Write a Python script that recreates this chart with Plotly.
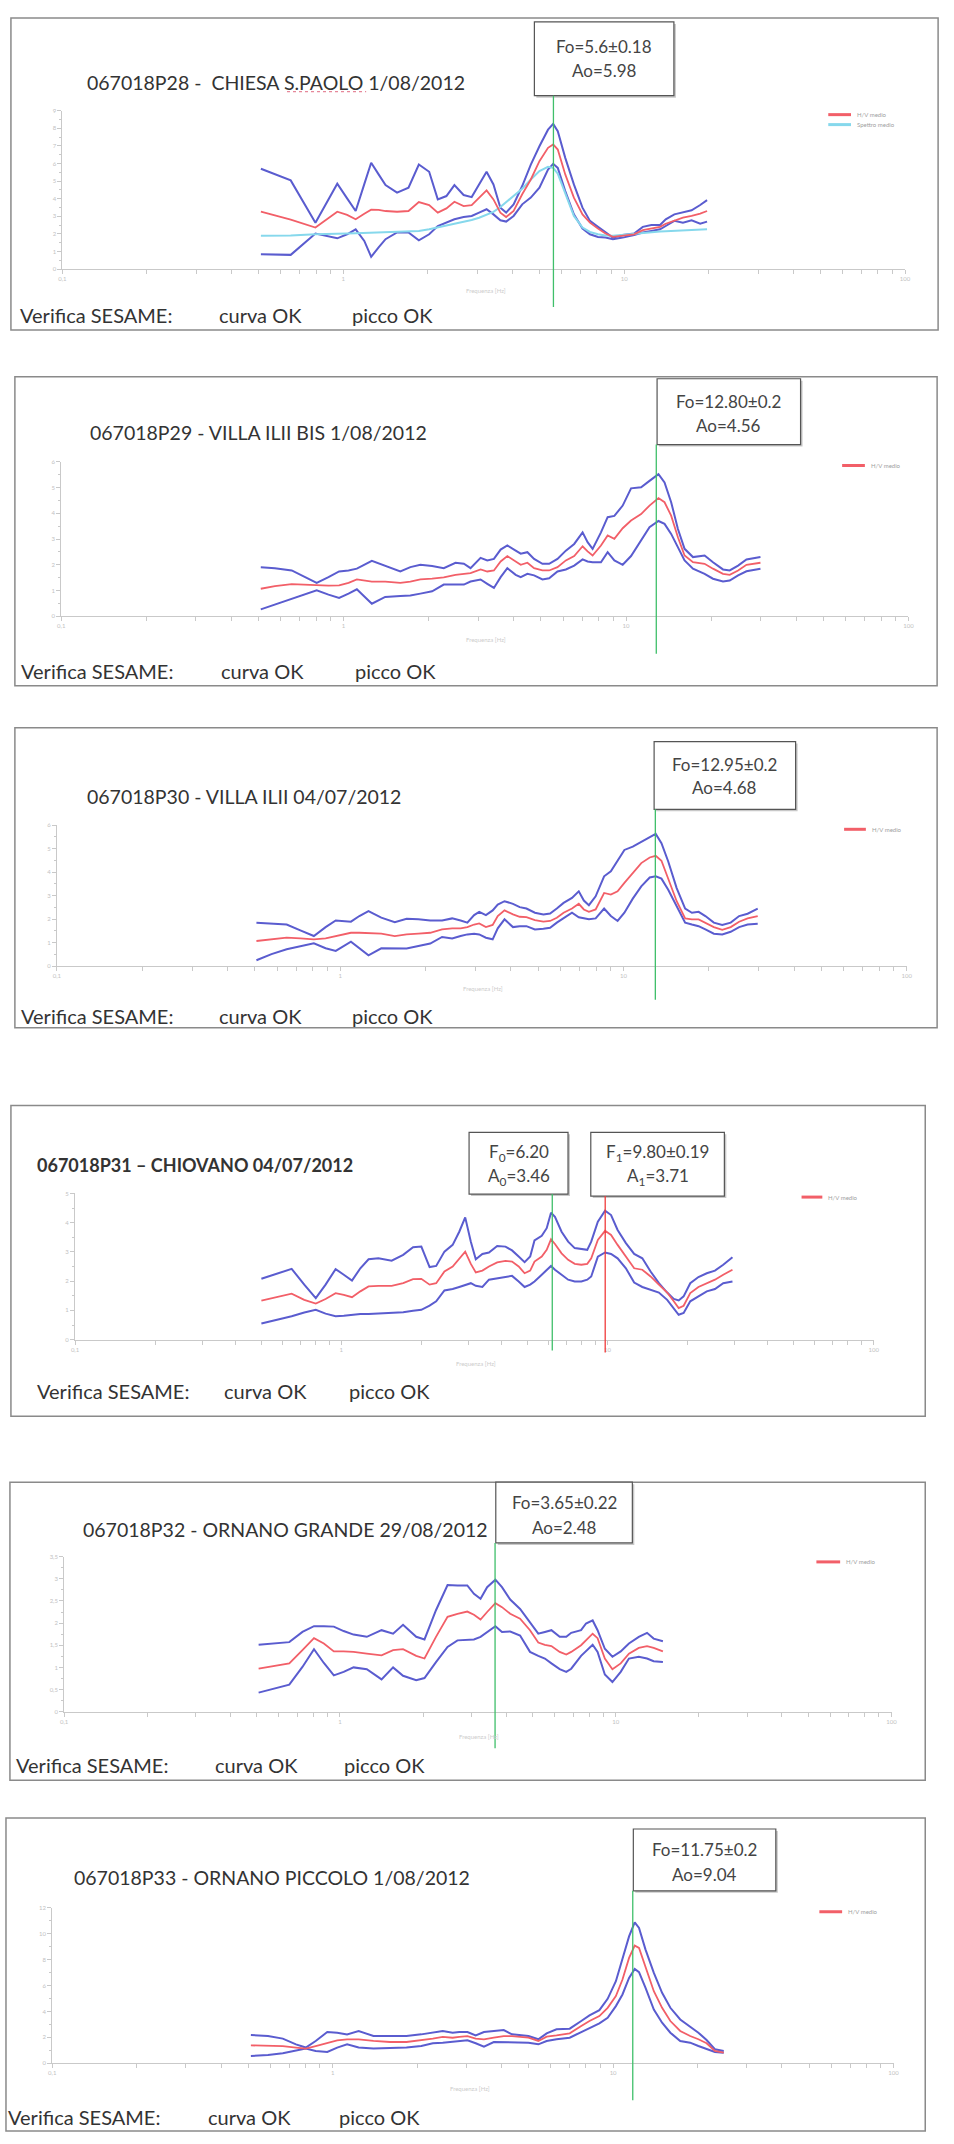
import math
import plotly.graph_objects as go

W, H = 954, 2144

# ----------------------------- DATA -----------------------------
# Panel 1 - 067018P28 CHIESA S.PAOLO
p1_freq = [0.509, 0.650, 0.796, 0.875, 0.952, 1.032, 1.107, 1.188, 1.257, 1.336,
           1.414, 1.554, 1.707, 1.858, 2.022, 2.170, 2.329, 2.487, 2.682, 2.865,
           3.045, 3.237, 3.425, 3.625, 3.800, 4.040, 4.335, 4.652, 4.993, 5.357,
           5.589, 5.803, 6.170, 6.622, 7.106, 7.553, 8.069, 8.578, 9.119, 9.879,
           10.85, 11.65, 12.50, 13.42, 14.06, 15.09, 16.19, 17.38, 18.65, 19.73]
p1_upper = [5.70, 5.04, 2.64, 3.81, 4.85, 4.02, 3.30, 4.83, 6.04, 5.38,
            4.77, 4.34, 4.62, 5.94, 5.53, 3.96, 4.15, 4.77, 4.21, 4.09,
            4.81, 5.53, 4.81, 3.49, 3.21, 3.68, 4.72, 5.94, 6.98, 7.92,
            8.25, 7.83, 6.32, 4.81, 3.49, 2.74, 2.40, 2.08, 1.79, 1.94,
            2.02, 2.40, 2.51, 2.51, 2.83, 3.11, 3.21, 3.34, 3.64, 3.92]
p1_mean = [3.26, 2.81, 2.36, 2.83, 3.26, 3.08, 2.83, 3.15, 3.38, 3.36,
           3.30, 3.26, 3.30, 3.81, 3.64, 3.21, 3.45, 3.83, 3.58, 3.64,
           4.06, 4.47, 3.96, 3.21, 2.96, 3.30, 4.25, 5.09, 6.13, 6.89,
           7.08, 6.79, 5.38, 4.06, 3.11, 2.64, 2.30, 2.02, 1.83, 1.89,
           1.98, 2.21, 2.30, 2.40, 2.58, 2.77, 2.92, 3.02, 3.15, 3.30]
p1_lower = [0.85, 0.81, 2.02, 1.89, 1.75, 1.98, 2.26, 1.60, 0.70, 1.23,
            1.70, 2.08, 2.08, 1.64, 1.98, 2.45, 2.64, 2.83, 2.96, 3.02,
            3.21, 3.40, 3.11, 2.77, 2.70, 3.02, 3.68, 4.06, 4.62, 5.66,
            5.98, 5.75, 4.43, 3.11, 2.30, 1.98, 1.83, 1.79, 1.70, 1.79,
            1.94, 2.08, 2.17, 2.26, 2.45, 2.74, 2.64, 2.77, 2.58, 2.70]
p1_spectrum = [1.89, 1.91, 1.98, 1.98, 2.00, 2.02, 2.04, 2.06, 2.08, 2.08,
               2.09, 2.11, 2.13, 2.17, 2.26, 2.36, 2.47, 2.58, 2.70, 2.79,
               2.92, 3.08, 3.25, 3.53, 3.81, 4.15, 4.57, 5.09, 5.57, 5.81,
               5.75, 5.42, 4.25, 3.02, 2.36, 2.11, 1.98, 1.91, 1.89, 1.94,
               2.02, 2.08, 2.11, 2.13, 2.15, 2.17, 2.19, 2.21, 2.25, 2.26]

# Panel 2 - 067018P29 VILLA ILII BIS
p2_freq = [0.509, 0.571, 0.655, 0.730, 0.803, 0.884, 0.964, 1.041, 1.114, 1.259,
           1.404, 1.588, 1.723, 1.870, 2.058, 2.263, 2.490, 2.666, 2.815, 3.055,
           3.227, 3.406, 3.598, 3.800, 4.068, 4.238, 4.475, 4.726, 5.060, 5.343,
           5.719, 6.123, 6.555, 7.019, 7.311, 7.616, 8.152, 8.610, 9.093, 9.734,
           10.42, 11.31, 12.11, 13.03, 13.69, 14.45, 15.27, 16.12, 17.26, 18.98,
           20.32, 22.05, 23.29, 24.94, 26.70, 29.93]
p2_upper = [1.90, 1.87, 1.78, 1.52, 1.30, 1.52, 1.74, 1.78, 1.85, 2.15,
            1.97, 1.74, 1.91, 2.00, 1.95, 1.87, 2.08, 2.04, 1.87, 2.27,
            2.17, 2.23, 2.59, 2.75, 2.55, 2.43, 2.49, 2.23, 2.04, 2.04,
            2.23, 2.55, 2.81, 3.26, 2.88, 2.62, 3.26, 3.85, 3.90, 4.30,
            4.97, 5.01, 5.26, 5.52, 5.20, 4.43, 3.39, 2.62, 2.30, 2.36,
            2.10, 1.82, 1.78, 1.97, 2.21, 2.30]
p2_mean = [1.07, 1.17, 1.25, 1.23, 1.19, 1.19, 1.20, 1.30, 1.43, 1.35,
           1.35, 1.30, 1.35, 1.43, 1.46, 1.51, 1.61, 1.64, 1.68, 1.82,
           1.74, 1.78, 2.13, 2.34, 2.13, 2.00, 2.08, 1.87, 1.78, 1.78,
           1.91, 2.17, 2.34, 2.72, 2.52, 2.36, 2.75, 3.14, 3.01, 3.42,
           3.72, 3.97, 4.30, 4.59, 4.43, 3.91, 3.07, 2.36, 2.10, 2.04,
           1.85, 1.65, 1.61, 1.78, 2.00, 2.08]
p2_lower = [0.27, 0.45, 0.68, 0.84, 1.01, 0.84, 0.71, 0.88, 1.05, 0.49,
            0.75, 0.79, 0.81, 0.88, 0.97, 1.23, 1.23, 1.23, 1.35, 1.43,
            1.26, 1.10, 1.52, 1.87, 1.61, 1.52, 1.65, 1.59, 1.43, 1.48,
            1.74, 1.82, 1.97, 2.21, 2.13, 2.10, 2.10, 2.49, 2.17, 2.00,
            2.34, 2.94, 3.46, 3.70, 3.59, 3.20, 2.68, 2.17, 1.85, 1.65,
            1.46, 1.35, 1.39, 1.59, 1.75, 1.85]

# Panel 3 - 067018P30 VILLA ILII
p3_freq = [0.506, 0.572, 0.647, 0.723, 0.807, 0.888, 0.964, 1.091, 1.168, 1.258,
           1.396, 1.558, 1.715, 1.888, 2.078, 2.288, 2.484, 2.660, 2.810, 2.969,
           3.094, 3.268, 3.452, 3.597, 3.801, 4.071, 4.300, 4.542, 4.865, 5.212,
           5.505, 5.814, 6.143, 6.578, 6.950, 7.242, 7.546, 7.972, 8.539, 9.020,
           9.528, 10.07, 10.78, 11.55, 12.37, 12.99, 13.61, 14.38, 15.40, 16.50,
           17.43, 18.41, 19.45, 20.83, 22.31, 23.89, 25.59, 27.41, 29.76]
p3_upper = [1.85, 1.82, 1.77, 1.52, 1.28, 1.66, 1.94, 1.89, 2.13, 2.34,
            2.06, 1.87, 2.01, 1.99, 1.94, 1.94, 2.03, 1.94, 1.85, 2.17,
            2.31, 2.17, 2.37, 2.62, 2.76, 2.65, 2.51, 2.45, 2.27, 2.20,
            2.24, 2.45, 2.69, 2.90, 3.18, 2.79, 2.59, 2.97, 3.82, 4.03,
            4.48, 4.94, 5.08, 5.27, 5.46, 5.62, 5.23, 4.45, 3.32, 2.45,
            2.27, 2.31, 2.13, 1.85, 1.75, 1.85, 2.13, 2.23, 2.45]
p3_mean = [1.07, 1.14, 1.21, 1.18, 1.14, 1.18, 1.28, 1.42, 1.42, 1.39,
           1.38, 1.28, 1.35, 1.38, 1.42, 1.56, 1.61, 1.61, 1.66, 1.77,
           1.82, 1.66, 1.75, 2.13, 2.37, 2.20, 2.10, 2.08, 1.96, 1.89,
           1.92, 2.06, 2.27, 2.45, 2.65, 2.41, 2.31, 2.41, 3.11, 3.04,
           3.18, 3.54, 3.96, 4.38, 4.62, 4.69, 4.48, 3.75, 2.76, 2.03,
           1.99, 1.99, 1.85, 1.66, 1.54, 1.66, 1.89, 2.03, 2.13]
p3_lower = [0.25, 0.51, 0.72, 0.86, 0.97, 0.76, 0.65, 1.04, 0.75, 0.46,
            0.76, 0.75, 0.75, 0.86, 0.96, 1.24, 1.18, 1.28, 1.35, 1.38,
            1.35, 1.21, 1.14, 1.61, 1.99, 1.66, 1.70, 1.70, 1.56, 1.59,
            1.63, 1.85, 2.03, 2.27, 2.08, 2.03, 1.99, 2.03, 2.45, 2.13,
            1.92, 2.27, 2.87, 3.39, 3.77, 3.82, 3.72, 3.25, 2.55, 1.85,
            1.77, 1.70, 1.56, 1.38, 1.35, 1.46, 1.66, 1.77, 1.80]

# Panel 4 - 067018P31 CHIOVANO
p4_freq = [0.501, 0.569, 0.651, 0.726, 0.802, 0.873, 0.952, 1.022, 1.097, 1.179,
           1.266, 1.379, 1.546, 1.708, 1.860, 1.998, 2.146, 2.272, 2.440, 2.620,
           2.774, 2.920, 3.066, 3.200, 3.388, 3.586, 3.851, 4.137, 4.379, 4.637,
           4.881, 5.123, 5.317, 5.661, 5.909, 6.133, 6.346, 6.720, 7.113, 7.530,
           7.972, 8.392, 8.684, 9.196, 9.790, 10.31, 10.91, 11.72, 12.59, 13.51,
           14.51, 15.59, 16.75, 17.73, 18.50, 19.31, 20.45, 21.95, 23.59, 25.32,
           27.20, 29.46]
p4_upper = [2.08, 2.25, 2.42, 1.88, 1.42, 1.88, 2.41, 2.22, 2.02, 2.44,
            2.75, 2.78, 2.70, 2.90, 3.16, 3.18, 2.48, 2.52, 3.01, 3.24,
            3.69, 4.18, 3.35, 2.75, 2.93, 2.98, 3.20, 3.18, 3.05, 2.84,
            2.65, 2.84, 3.39, 3.55, 3.81, 4.34, 4.20, 3.69, 3.35, 3.13,
            3.09, 3.07, 3.35, 4.03, 4.41, 4.26, 3.75, 3.30, 2.93, 2.78,
            2.33, 1.93, 1.61, 1.39, 1.34, 1.48, 1.93, 2.14, 2.27, 2.36,
            2.56, 2.82]
p4_mean = [1.33, 1.45, 1.57, 1.36, 1.23, 1.39, 1.59, 1.53, 1.45, 1.65,
           1.82, 1.84, 1.84, 1.93, 2.07, 2.08, 1.88, 1.93, 2.33, 2.50,
           2.78, 3.01, 2.59, 2.30, 2.36, 2.50, 2.64, 2.69, 2.67, 2.50,
           2.27, 2.36, 2.67, 2.84, 3.07, 3.43, 3.27, 2.95, 2.73, 2.59,
           2.56, 2.59, 2.78, 3.41, 3.72, 3.58, 3.24, 2.84, 2.44, 2.39,
           2.16, 1.88, 1.61, 1.31, 1.08, 1.16, 1.59, 1.80, 1.93, 2.05,
           2.22, 2.39]
p4_lower = [0.55, 0.66, 0.80, 0.93, 1.02, 0.89, 0.80, 0.82, 0.85, 0.88,
            0.88, 0.89, 0.91, 0.94, 0.99, 1.02, 1.16, 1.31, 1.68, 1.73,
            1.80, 1.88, 1.93, 1.84, 1.80, 2.05, 2.10, 2.14, 2.18, 1.99,
            1.80, 1.88, 1.99, 2.22, 2.39, 2.52, 2.39, 2.22, 2.05, 1.99,
            1.99, 2.05, 2.16, 2.84, 2.98, 2.93, 2.78, 2.44, 1.95, 1.80,
            1.70, 1.61, 1.36, 1.08, 0.85, 0.91, 1.31, 1.48, 1.65, 1.73,
            1.93, 1.99]

# Panel 5 - 067018P32 ORNANO GRANDE
p5_freq = [0.507, 0.578, 0.655, 0.731, 0.805, 0.874, 0.950, 1.031, 1.120, 1.251,
           1.415, 1.558, 1.693, 1.890, 2.025, 2.229, 2.455, 2.667, 2.895, 3.060,
           3.233, 3.416, 3.660, 3.867, 4.142, 4.498, 4.886, 5.235, 5.531, 5.843,
           6.260, 6.614, 6.893, 7.484, 7.800, 8.243, 8.590, 9.127, 9.723, 10.42,
           11.16, 12.12, 12.98, 13.72, 14.82]
p5_upper = [1.51, 1.54, 1.57, 1.80, 1.93, 1.93, 1.92, 1.82, 1.74, 1.69,
            1.84, 1.76, 1.96, 1.69, 1.63, 2.29, 2.86, 2.85, 2.85, 2.66,
            2.55, 2.81, 2.98, 2.81, 2.53, 2.32, 2.02, 1.76, 1.80, 1.84,
            1.69, 1.69, 1.78, 1.84, 1.99, 2.06, 1.84, 1.42, 1.24, 1.36,
            1.54, 1.69, 1.78, 1.65, 1.59]
p5_mean = [0.97, 1.03, 1.09, 1.39, 1.66, 1.54, 1.36, 1.36, 1.35, 1.31,
           1.27, 1.39, 1.41, 1.26, 1.20, 1.69, 2.14, 2.21, 2.26, 2.19,
           2.08, 2.25, 2.45, 2.36, 2.21, 2.10, 1.84, 1.56, 1.51, 1.48,
           1.35, 1.29, 1.35, 1.50, 1.61, 1.76, 1.66, 1.20, 0.96, 1.09,
           1.31, 1.44, 1.48, 1.44, 1.36]
p5_lower = [0.43, 0.52, 0.61, 1.01, 1.41, 1.10, 0.82, 0.90, 1.00, 0.96,
            0.73, 1.00, 0.81, 0.71, 0.76, 1.12, 1.46, 1.61, 1.63, 1.63,
            1.69, 1.80, 1.93, 1.80, 1.81, 1.72, 1.35, 1.26, 1.20, 1.09,
            0.96, 0.90, 0.97, 1.26, 1.36, 1.51, 1.35, 0.84, 0.67, 0.90,
            1.20, 1.24, 1.20, 1.14, 1.12]

# Panel 6 - 067018P33 ORNANO PICCOLO
p6_freq = [0.511, 0.588, 0.664, 0.740, 0.802, 0.870, 0.957, 1.038, 1.126, 1.238,
           1.398, 1.601, 1.833, 2.070, 2.276, 2.469, 2.678, 2.827, 3.024, 3.236,
           3.463, 3.755, 4.074, 4.360, 4.666, 4.992, 5.414, 5.794, 6.284, 7.002,
           7.698, 8.237, 8.934, 9.561, 10.23, 10.80, 11.40, 11.94, 12.37, 13.05,
           13.97, 14.95, 16.00, 17.35, 18.82, 20.14, 21.54, 23.06, 24.80]
p6_upper = [2.18, 2.10, 1.90, 1.46, 1.21, 1.72, 2.41, 2.36, 2.23, 2.49,
            2.10, 2.10, 2.10, 2.23, 2.36, 2.49, 2.36, 2.41, 2.41, 2.15,
            2.41, 2.49, 2.56, 2.23, 2.15, 2.10, 1.85, 2.31, 2.62, 2.67,
            3.26, 3.69, 4.10, 4.97, 6.33, 8.00, 9.79, 10.87, 10.44, 8.77,
            6.97, 5.44, 4.28, 3.38, 2.82, 2.36, 1.79, 1.08, 0.95]
p6_mean = [1.38, 1.38, 1.33, 1.21, 1.13, 1.33, 1.59, 1.77, 1.85, 1.85,
           1.72, 1.64, 1.64, 1.77, 1.90, 2.03, 1.97, 2.03, 2.10, 1.90,
           1.85, 1.97, 2.10, 2.10, 2.05, 1.97, 1.72, 2.05, 2.15, 2.31,
           2.87, 3.26, 3.64, 4.28, 5.18, 6.46, 8.13, 9.08, 8.90, 7.49,
           5.56, 4.28, 3.26, 2.49, 2.10, 1.85, 1.54, 0.95, 0.82]
p6_lower = [0.56, 0.64, 0.77, 0.95, 1.13, 0.95, 0.87, 1.21, 1.46, 1.21,
            1.13, 1.18, 1.21, 1.33, 1.54, 1.59, 1.64, 1.72, 1.77, 1.54,
            1.28, 1.64, 1.64, 1.64, 1.64, 1.59, 1.46, 1.72, 1.85, 1.97,
            2.41, 2.74, 3.08, 3.51, 4.41, 5.31, 6.59, 7.28, 7.03, 5.82,
            4.15, 3.13, 2.36, 1.72, 1.59, 1.33, 1.13, 0.87, 0.82]

titles = ["067018P28 -  CHIESA S.PAOLO 1/08/2012",
          "067018P29 - VILLA ILII BIS 1/08/2012",
          "067018P30 - VILLA ILII 04/07/2012",
          "<b>067018P31 – CHIOVANO 04/07/2012</b>",
          "067018P32 - ORNANO GRANDE 29/08/2012",
          "067018P33 - ORNANO PICCOLO 1/08/2012"]

# peak frequencies (Hz) and their label texts
peak_freqs = [[5.6], [12.80], [12.95], [6.20, 9.80], [3.65], [11.75]]
peak_texts = [[("Fo=5.6±0.18", "Ao=5.98")],
              [("Fo=12.80±0.2", "Ao=4.56")],
              [("Fo=12.95±0.2", "Ao=4.68")],
              [("F<sub>0</sub>=6.20", "A<sub>0</sub>=3.46"),
               ("F<sub>1</sub>=9.80±0.19", "A<sub>1</sub>=3.71")],
              [("Fo=3.65±0.22", "Ao=2.48")],
              [("Fo=11.75±0.2", "Ao=9.04")]]

x_tick_vals = [0.1, 0.2, 0.3, 0.4, 0.5, 0.6, 0.7, 0.8, 0.9,
               1, 2, 3, 4, 5, 6, 7, 8, 9,
               10, 20, 30, 40, 50, 60, 70, 80, 90, 100]
x_tick_text = ["0,1", " ", " ", " ", " ", " ", " ", " ", " ",
               "1", " ", " ", " ", " ", " ", " ", " ", " ",
               "10", " ", " ", " ", " ", " ", " ", " ", " ", "100"]

legend_main = "H/V medio"
legend_spec = "Spettro medio"
check_texts = ["Verifica SESAME:", "curva OK", "picco OK"]

# ----------------------------- STYLE / LAYOUT -----------------------------
BLUE = "#5a5ccf"
RED = "#f25f68"
CYAN = "#86d8ec"
GREEN = "#3fbf6a"
PEAKRED = "#f03c3c"
AXC = "#c9c9c9"
TICKF = dict(size=6, color="#c2c2c2")
FONT = "Lato, 'Open Sans', sans-serif"
TXT = "#333333"

panels = [
    dict(freq=p1_freq, up=p1_upper, mean=p1_mean, low=p1_lower, spec=p1_spectrum,
         border=(7, 14, 944, 327), xr=(59, 910.6), yax=266, ytop=107, ymax=9, dt=1, mdt=0.5,
         title_xy=(82, 79), tsize=19.5,
         boxes=[(536, 18, 677, 92, 43, 67)], lines=[(92, 304, GREEN)],
         leg_y=111, leg_x=(833, 856), check_y=312, check_x=(14, 215, 350), fq=(487, 287)),
    dict(freq=p2_freq, up=p2_upper, mean=p2_mean, low=p2_lower, spec=None,
         border=(11, 374, 943, 684), xr=(57.8, 914), yax=614.3, ytop=459.3, ymax=6, dt=1, mdt=0.5,
         title_xy=(85, 430), tsize=19.5,
         boxes=[(660, 376, 805, 442, 399, 423)], lines=[(442, 652, GREEN)],
         leg_y=463, leg_x=(847, 870), check_y=669, check_x=(15, 217, 353), fq=(487, 638)),
    dict(freq=p3_freq, up=p3_upper, mean=p3_mean, low=p3_lower, spec=None,
         border=(11, 726, 943, 1027), xr=(53.5, 912.4), yax=965.3, ytop=823.7, ymax=6, dt=1, mdt=0.5,
         title_xy=(82, 795), tsize=19.5,
         boxes=[(657, 740, 800, 808, 763, 786)], lines=[(808, 999, GREEN)],
         leg_y=828, leg_x=(849, 871), check_y=1015, check_x=(15, 215, 350), fq=(484, 988)),
    dict(freq=p4_freq, up=p4_upper, mean=p4_mean, low=p4_lower, spec=None,
         border=(7, 1105, 931, 1417), xr=(71.8, 879), yax=1340, ytop=1193.3, ymax=5, dt=1, mdt=0.5,
         title_xy=(31, 1165), tsize=18,
         boxes=[(470, 1132, 570, 1194, 1153, 1177), (593, 1132, 728, 1196, 1153, 1177)],
         lines=[(1194, 1351, GREEN), (1196, 1353, PEAKRED)],
         leg_y=1197, leg_x=(806, 827), check_y=1392, check_x=(31, 220, 347), fq=(477, 1364)),
    dict(freq=p5_freq, up=p5_upper, mean=p5_mean, low=p5_lower, spec=None,
         border=(6, 1483, 931, 1782), xr=(60.8, 897), yax=1713.3, ytop=1557.7, ymax=3.5, dt=0.5, mdt=0.25,
         title_xy=(78, 1530), tsize=19.5,
         boxes=[(497, 1483, 635, 1544, 1503, 1528)], lines=[(1544, 1750, GREEN)],
         leg_y=1563, leg_x=(821, 845), check_y=1767, check_x=(10, 211, 342), fq=(480, 1738)),
    dict(freq=p6_freq, up=p6_upper, mean=p6_mean, low=p6_lower, spec=None,
         border=(2, 1820, 931, 2134), xr=(48.7, 899), yax=2066, ytop=1910, ymax=12, dt=2, mdt=1,
         title_xy=(69, 1880), tsize=19.5,
         boxes=[(636, 1831, 780, 1893, 1852, 1877)], lines=[(1893, 2103, GREEN)],
         leg_y=1914, leg_x=(824, 847), check_y=2120, check_x=(2, 204, 337), fq=(471, 2091)),
]


def X(px):
    return px / W


def Y(py):
    return 1 - py / H


fig = go.Figure()
shapes = []
annotations = []
axes = {}

for i, p in enumerate(panels):
    n = i + 1
    xa = "x" if n == 1 else f"x{n}"
    ya = "y" if n == 1 else f"y{n}"
    xkey = "xaxis" if n == 1 else f"xaxis{n}"
    ykey = "yaxis" if n == 1 else f"yaxis{n}"

    series = [(p["up"], BLUE, 2.0), (p["low"], BLUE, 2.0)]
    if p["spec"] is not None:
        series.append((p["spec"], CYAN, 2.0))
    series.append((p["mean"], RED, 1.8))
    for vals, col, wid in series:
        fig.add_trace(go.Scatter(x=p["freq"], y=vals, mode="lines",
                                 line=dict(color=col, width=wid),
                                 xaxis=xa, yaxis=ya, showlegend=False, hoverinfo="skip"))

    axes[xkey] = dict(type="log", range=[-1, 2], domain=[X(p["xr"][0]), X(p["xr"][1])],
                      anchor=ya, showline=True, linecolor=AXC, linewidth=1,
                      ticks="outside", ticklen=4, tickcolor=AXC, tickwidth=1,
                      tickvals=x_tick_vals, ticktext=x_tick_text, tickfont=TICKF,
                      showgrid=False, zeroline=False, fixedrange=True)
    axes[ykey] = dict(range=[0, p["ymax"]], domain=[Y(p["yax"]), Y(p["ytop"])],
                      anchor=xa, showline=True, linecolor=AXC, linewidth=1,
                      ticks="outside", ticklen=4, tickcolor=AXC, tick0=0, dtick=p["dt"],
                      minor=dict(ticks="outside", ticklen=2, dtick=p["mdt"], tickcolor=AXC),
                      tickfont=TICKF, showgrid=False, zeroline=False, fixedrange=True)

    # panel border
    bx0, by0, bx1, by1 = p["border"]
    shapes.append(dict(type="rect", xref="paper", yref="paper", x0=X(bx0), x1=X(bx1),
                       y0=Y(by1), y1=Y(by0), line=dict(color="#8a8a8a", width=1.5), layer="below"))

    # title
    tx, ty = p["title_xy"]
    annotations.append(dict(x=X(tx), y=Y(ty), xref="paper", yref="paper", text=titles[i],
                            showarrow=False, xanchor="left", yanchor="middle",
                            font=dict(family=FONT, size=p["tsize"], color=TXT)))

    # peak boxes and vertical peak lines
    for k, (x0, y0, x1, y1, l1, l2) in enumerate(p["boxes"]):
        shapes.append(dict(type="rect", xref="paper", yref="paper", x0=X(x0 + 2), x1=X(x1 + 2),
                           y0=Y(y1 + 2), y1=Y(y0 + 2), fillcolor="#c8c8c8",
                           line=dict(width=0)))
        shapes.append(dict(type="rect", xref="paper", yref="paper", x0=X(x0), x1=X(x1),
                           y0=Y(y1), y1=Y(y0), fillcolor="white",
                           line=dict(color="#555555", width=1.2)))
        t1, t2 = peak_texts[i][k]
        for txt, ly in ((t1, l1), (t2, l2)):
            annotations.append(dict(x=X((x0 + x1) / 2), y=Y(ly), xref="paper", yref="paper",
                                    text=txt, showarrow=False, xanchor="center", yanchor="middle",
                                    font=dict(family=FONT, size=17, color="#444444")))
        yb, ye, col = p["lines"][k]
        fpk = peak_freqs[i][k]
        shapes.append(dict(type="line", xref=xa, yref="paper", x0=fpk, x1=fpk,
                           y0=Y(ye), y1=Y(yb), line=dict(color=col, width=1.3)))

    # spell-check underline in the first title
    if n == 1:
        shapes.append(dict(type="line", xref="paper", yref="paper", x0=X(286), x1=X(366),
                           y0=Y(88), y1=Y(88), line=dict(color="#e06a80", width=1, dash="dot")))

    # legend
    lx0, lx1 = p["leg_x"]
    entries = [(legend_main, RED)]
    if p["spec"] is not None:
        entries.append((legend_spec, CYAN))
    for j, (name, col) in enumerate(entries):
        ly = p["leg_y"] + j * 10
        shapes.append(dict(type="line", xref="paper", yref="paper", x0=X(lx0), x1=X(lx1),
                           y0=Y(ly), y1=Y(ly), line=dict(color=col, width=3)))
        annotations.append(dict(x=X(lx1 + 4), y=Y(ly), xref="paper", yref="paper", text=name,
                                showarrow=False, xanchor="left", yanchor="middle",
                                font=dict(family=FONT, size=6, color="#a0a0a0")))

    # axis title
    fx, fy = p["fq"]
    annotations.append(dict(x=X(fx), y=Y(fy), xref="paper", yref="paper", text="Frequenza [Hz]",
                            showarrow=False, xanchor="center", yanchor="middle",
                            font=dict(family=FONT, size=6, color="#cccccc")))

    # SESAME check row
    for txt, cx in zip(check_texts, p["check_x"]):
        annotations.append(dict(x=X(cx), y=Y(p["check_y"]), xref="paper", yref="paper", text=txt,
                                showarrow=False, xanchor="left", yanchor="middle",
                                font=dict(family=FONT, size=20, color=TXT)))

fig.update_layout(
    width=W, height=H, autosize=False,
    margin=dict(l=0, r=0, t=0, b=0, pad=0),
    paper_bgcolor="white", plot_bgcolor="white",
    separators=",.",
    font=dict(family=FONT),
    shapes=shapes, annotations=annotations, showlegend=False,
    **axes,
)

fig.write_html("out.html", config={"displayModeBar": False})
